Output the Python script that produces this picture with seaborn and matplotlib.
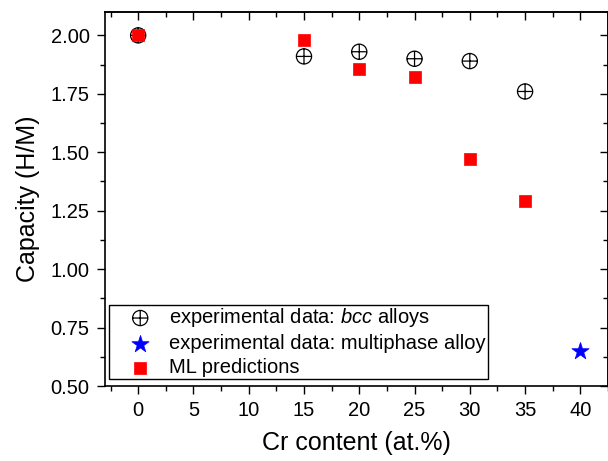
import matplotlib
matplotlib.use("Agg")
import matplotlib.pyplot as plt
import seaborn as sns
import pandas as pd
from matplotlib.path import Path
from matplotlib.ticker import MultipleLocator, FormatStrFormatter

cr_bcc = [0, 15, 20, 25, 30, 35]
cap_bcc = [2.00, 1.91, 1.93, 1.90, 1.89, 1.76]
cr_multi = [40]
cap_multi = [0.65]
cr_ml = [0, 15, 20, 25, 30, 35]
cap_ml = [2.00, 1.98, 1.855, 1.82, 1.47, 1.29]

sns.set_theme(style="ticks")
plt.rcParams['font.family'] = ['Liberation Sans', 'DejaVu Sans']
plt.rcParams['mathtext.fontset'] = 'custom'
plt.rcParams['mathtext.it'] = 'Liberation Sans:italic'
plt.rcParams['mathtext.rm'] = 'Liberation Sans'
plt.rcParams['text.color'] = 'black'
plt.rcParams['axes.labelcolor'] = 'black'
plt.rcParams['xtick.color'] = 'black'
plt.rcParams['ytick.color'] = 'black'

fig = plt.figure(figsize=(6.08, 4.61), dpi=100)
ax = fig.add_axes([105/608, (461-386)/461, 503/608, (386-12)/461])

circle = Path.unit_circle()
cross = Path([(-1, 0), (1, 0), (0, -1), (0, 1)],
             [Path.MOVETO, Path.LINETO, Path.MOVETO, Path.LINETO])
oplus = Path.make_compound_path(circle, cross)

df_bcc = pd.DataFrame({"x": cr_bcc, "y": cap_bcc})
df_multi = pd.DataFrame({"x": cr_multi, "y": cap_multi})
df_ml = pd.DataFrame({"x": cr_ml, "y": cap_ml})

sns.scatterplot(data=df_bcc, x="x", y="y", ax=ax, marker=oplus, s=120,
                facecolor="none", edgecolor="black", linewidth=0.9,
                label="experimental data: $\\mathit{bcc}$ alloys", zorder=3)
sns.scatterplot(data=df_multi, x="x", y="y", ax=ax, marker="*", s=170,
                color="#0000ff", edgecolor="#0000ff", linewidth=0.5,
                label="experimental data: multiphase alloy", zorder=3)
sns.scatterplot(data=df_ml, x="x", y="y", ax=ax, marker="s", s=70,
                color="#ff0000", edgecolor="#ff0000", linewidth=0.5,
                label="ML predictions", zorder=4)

ax.set_xlim(-3, 42.5)
ax.set_ylim(0.5, 2.1)
ax.xaxis.set_major_locator(MultipleLocator(5))
ax.xaxis.set_minor_locator(MultipleLocator(2.5))
ax.yaxis.set_major_locator(MultipleLocator(0.25))
ax.yaxis.set_minor_locator(MultipleLocator(0.125))
ax.yaxis.set_major_formatter(FormatStrFormatter('%.2f'))

ax.tick_params(which="both", direction="out", top=False, right=False,
               labelsize=14.5, color="black", width=1)
ax.tick_params(which="major", length=6, pad=5)
ax.tick_params(which="minor", length=3.5)
secx = ax.secondary_xaxis('top')
secx.xaxis.set_major_locator(MultipleLocator(5))
secx.xaxis.set_minor_locator(MultipleLocator(2.5))
secx.tick_params(which="both", direction="in", labeltop=False, width=1)
secx.tick_params(which="major", length=6)
secx.tick_params(which="minor", length=3.5)
secy = ax.secondary_yaxis('right')
secy.yaxis.set_major_locator(MultipleLocator(0.25))
secy.yaxis.set_minor_locator(MultipleLocator(0.125))
secy.tick_params(which="both", direction="in", labelright=False, width=1)
secy.tick_params(which="major", length=6)
secy.tick_params(which="minor", length=3.5)

for sp in ax.spines.values():
    sp.set_linewidth(1.2)
    sp.set_color("black")

ax.set_xlabel("Cr content (at.%)", fontsize=18, labelpad=8)
ax.set_ylabel("Capacity (H/M)", fontsize=18, labelpad=8)

leg = ax.legend(loc="lower left", bbox_to_anchor=(4/503, 7/374), borderaxespad=0,
                fontsize=14.5, frameon=True, fancybox=False,
                edgecolor="black", framealpha=1, handlelength=2.94,
                handletextpad=-0.02, labelspacing=0.25, borderpad=0.08)
leg.get_frame().set_linewidth(1.0)

fig.savefig("out.png", dpi=100)
